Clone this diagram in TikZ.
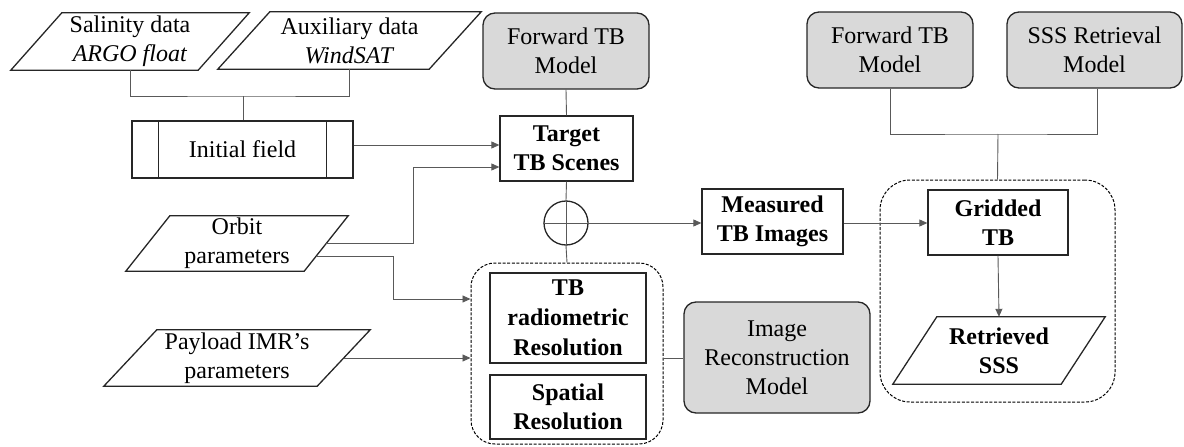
\documentclass[tikz,border=0pt]{standalone}
\usepackage{fontspec}
\setmainfont{Liberation Serif}
\usetikzlibrary{arrows.meta,calc}
\tikzset{
  txt/.style={font=\fontsize{24}{29}\selectfont, align=center, inner sep=0pt},
  boxline/.style={draw=black!85, line width=1.3pt},
  plainbox/.style={txt, boxline, rectangle},
  graybox/.style={txt, boxline, rectangle, rounded corners=12pt, fill=gray!30},
  ghost/.style={txt, rectangle, draw=none},
  dashbox/.style={draw=black, line width=1pt, dash pattern=on 3pt off 1.6pt, rounded corners=24pt},
  conn/.style={draw=black!65, line width=0.9pt},
  arr/.style={conn, -{Triangle[length=8pt,width=7pt]}},
}
\newcommand\paradraw[2]{\draw[boxline] ([xshift=#2]#1.north west) -- ([xshift=#2]#1.north east) -- ([xshift=-#2]#1.south east) -- ([xshift=-#2]#1.south west) -- cycle;}
\begin{document}
\begin{tikzpicture}[x=1pt,y=-1pt]
\useasboundingbox (0,0) rectangle (1184,447);
% parallelogram inputs
\node[ghost, minimum width=187pt, minimum height=57pt] (sal) at (130,41.5) {Salinity data\\\textit{ARGO float}};
\paradraw{sal}{25.5pt}
\node[ghost, minimum width=211pt, minimum height=57pt] (aux) at (349.5,40.5) {Auxiliary data\\\textit{WindSAT}};
\paradraw{aux}{26pt}
\node[ghost, minimum width=178pt, minimum height=55pt] (orb) at (237,243.5) {Orbit\\parameters};
\paradraw{orb}{22pt}
\node[ghost, minimum width=213pt, minimum height=56pt] (pay) at (237,358) {Payload IMR’s\\parameters};
\paradraw{pay}{26.5pt}
% initial field
\node[plainbox, minimum width=221pt, minimum height=57pt] (init) at (242.5,149.5) {Initial field};
\draw[boxline] ([xshift=27pt]init.north west) -- ([xshift=27pt]init.south west);
\draw[boxline] ([xshift=-27pt]init.north east) -- ([xshift=-27pt]init.south east);
% models
\node[graybox, minimum width=166pt, minimum height=76pt] (fwd1) at (566,51) {Forward TB\\Model};
\node[graybox, minimum width=166pt, minimum height=76pt] (fwd2) at (890,50) {Forward TB\\Model};
\node[graybox, minimum width=175pt, minimum height=76pt] (sssm) at (1094.5,50) {SSS Retrieval\\Model};
\node[graybox, minimum width=186pt, minimum height=111pt] (img) at (777,357.5) {Image\\Reconstruction\\Model};
% bold boxes
\node[plainbox, font=\fontsize{24}{29}\selectfont\bfseries, minimum width=133pt, minimum height=65pt] (tgt) at (566.5,148.5) {Target\\TB Scenes};
\node[plainbox, font=\fontsize{24}{29}\selectfont\bfseries, minimum width=141pt, minimum height=65pt] (meas) at (772.5,221.5) {Measured\\TB Images};
\node[plainbox, font=\fontsize{24}{29}\selectfont\bfseries, minimum width=140pt, minimum height=65pt] (grid) at (998,222.5) {Gridded\\TB};
\node[plainbox, font=\fontsize{24}{30}\selectfont\bfseries, minimum width=156pt, minimum height=90pt] (rad) at (568,318) {TB\\radiometric\\Resolution};
\node[plainbox, font=\fontsize{24}{29}\selectfont\bfseries, minimum width=156pt, minimum height=64pt] (spa) at (568,407) {Spatial\\Resolution};
\node[ghost, font=\fontsize{24}{29}\selectfont\bfseries, minimum width=168pt, minimum height=67pt] (ret) at (999,350.5) {Retrieved\\SSS};
\paradraw{ret}{22pt}
% dashed groups
\node[dashbox, minimum width=192pt, minimum height=181pt, inner sep=0pt] (grpL) at (567,353.5) {};
\node[dashbox, rounded corners=30pt, minimum width=235pt, minimum height=222pt, inner sep=0pt] (grpR) at (997.5,291) {};
% summing junction
\node[circle, boxline, minimum size=44pt, inner sep=0pt] (sum) at (566,223) {};
\draw[conn] (sum.north) -- (sum.south);
\draw[conn] (sum.west) -- (sum.east);
% connectors
\coordinate (j1) at (243,96);
\draw[conn] (sal.south) |- (j1) -| (aux.south);
\draw[conn] (j1) -- (init.north -| j1);
\draw[arr] ($(init.east)+(0,-4.5)$) -- ($(init.east -| tgt.west)+(0,-4.5)$);
\draw[arr] (orb.east) -| (413,167) -- (tgt.west |- 0,167);
\draw[arr] ($(orb.east)+(-10,12.5)$) -| (393,299) -- (grpL.west |- 0,299);
\draw[arr] (pay.east) -- (grpL.west |- pay.east);
\draw[conn] (fwd1.south) -- (tgt.north);
\draw[conn] (tgt.south) -- (sum.north);
\draw[conn] (sum.south) -- (grpL.north);
\draw[arr] (sum.east) -- (meas.west |- sum.east);
\draw[conn] (grpL.east |- 0,358) -- (img.west |- 0,358);
\draw[arr] (meas.east |- 0,223) -- (grid.west |- 0,223);
\draw[arr] (grid.south) -- (ret.north);
\coordinate (j2) at (998,134);
\draw[conn] (fwd2.south) |- (j2) -| ([xshift=2.5pt]sssm.south);
\draw[conn] (j2) -- (grpR.north);
\end{tikzpicture}
\end{document}
